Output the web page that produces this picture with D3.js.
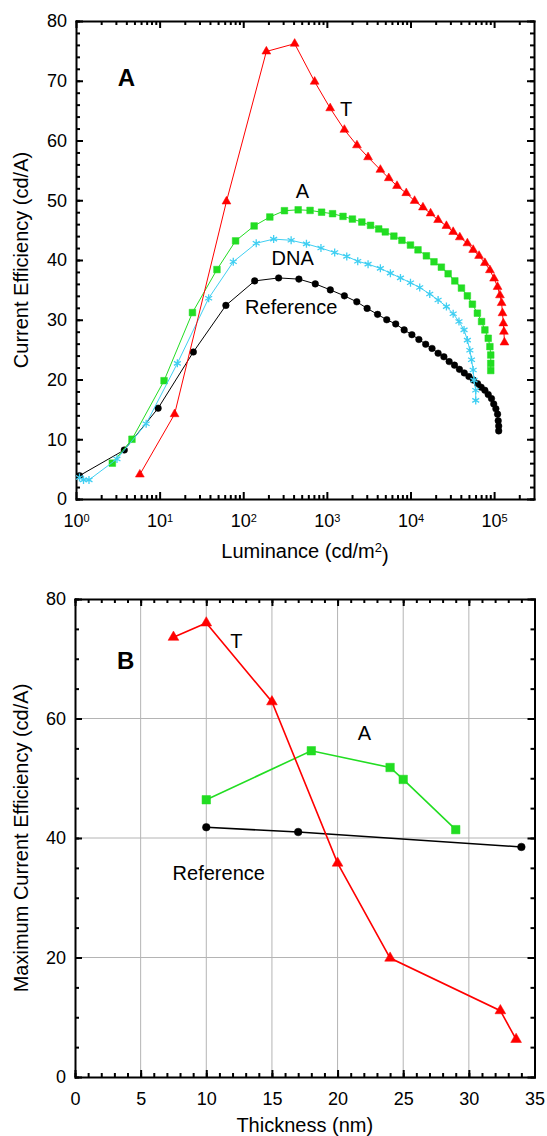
<!DOCTYPE html>
<html>
<head>
<meta charset="utf-8">
<script src="https://cdn.jsdelivr.net/npm/d3@7"></script>
<style>
body { margin: 0; background: #fff; }
svg text { font-family: Arial, "Liberation Sans", Helvetica, sans-serif; fill: #000; }
</style>
</head>
<body>
<svg id="chart" width="547" height="1136"></svg>
<script>
// --- PANEL A DATA (luminance cd/m2, current efficiency cd/A) ---
var tLum = [5.8, 15.1, 63, 189, 412, 714, 1096, 1620, 2290, 3110, 4365, 5500, 6900, 8900, 11200, 14100, 17400, 21400, 26900, 32400, 38900, 47900, 56200, 66100, 77600, 89100, 100000, 110000, 117500, 123000, 126000, 129000, 131000, 133000];
var tEff = [4.1, 14.2, 49.8, 74.9, 76.2, 69.85, 65.4, 61.8, 59.2, 57.2, 55.1, 53.7, 52.4, 51.2, 49.9, 48.8, 47.8, 46.7, 45.7, 44.7, 43.8, 42.8, 41.7, 40.7, 39.5, 38.3, 36.9, 35.5, 34.1, 32.8, 31.1, 29.4, 28.0, 26.2];

var aLum = [2.72, 4.67, 11.3, 24.7, 48.5, 81, 135, 208, 311, 454, 630, 865, 1170, 1560, 2020, 2620, 3330, 4170, 5000, 6330, 7900, 10000, 12300, 15500, 19100, 23400, 28200, 33900, 40700, 47900, 55000, 63100, 70800, 77600, 85100, 89100, 91200, 91200, 91200];
var aEff = [6.0, 10.0, 19.8, 31.2, 38.4, 43.2, 45.7, 47.2, 48.25, 48.4, 48.3, 48.0, 47.75, 47.3, 46.85, 46.35, 45.8, 45.2, 44.7, 44.0, 43.3, 42.5, 41.7, 40.7, 39.7, 38.8, 37.7, 36.5, 35.3, 34.0, 32.6, 31.1, 29.7, 28.3, 26.9, 25.5, 24.1, 22.7, 21.5];

var dnaLum = [1.1, 1.23, 1.43, 3.09, 6.9, 16.3, 38.6, 76, 143, 231, 374, 570, 850, 1240, 1730, 2340, 3110, 4365, 5750, 7590, 10000, 12900, 17000, 21400, 26900, 32400, 38000, 43700, 47900, 51300, 53700, 56200, 57500, 60300, 60300];
var dnaEff = [3.6, 3.2, 3.2, 6.7, 12.6, 22.7, 33.6, 39.7, 42.8, 43.5, 43.3, 42.7, 42.0, 41.25, 40.6, 39.8, 39.3, 38.6, 37.8, 37.0, 36.2, 35.4, 34.3, 33.3, 32.2, 31.0, 29.7, 28.3, 26.6, 24.9, 23.3, 21.6, 19.9, 18.2, 16.5];

var refLum = [1.1, 3.78, 9.6, 25.3, 62, 137, 265, 463, 727, 1100, 1620, 2280, 3030, 4040, 5200, 6660, 8400, 10400, 12600, 15200, 18100, 21400, 25100, 29000, 33600, 38500, 44000, 50000, 56600, 63500, 70000, 77500, 85000, 93000, 99000, 105000, 110000, 112000, 113500, 113500];
var refEff = [3.9, 8.2, 15.2, 24.6, 32.4, 36.5, 37.0, 36.8, 36.0, 35.0, 34.0, 33.0, 31.9, 30.9, 30.0, 29.3, 28.3, 27.5, 26.7, 25.9, 25.2, 24.4, 23.8, 23.0, 22.4, 21.7, 21.1, 20.5, 19.9, 19.3, 18.7, 18.2, 17.5, 16.8, 15.9, 15.1, 14.2, 13.1, 12.2, 11.4];

// --- PANEL B DATA (thickness nm, max current efficiency cd/A) ---
var thickT = [7.5, 10, 15, 20, 24, 32.4, 33.6];
var maxT = [73.6, 76.0, 62.8, 35.8, 19.9, 11.1, 6.3];
var thickA = [10, 18, 24, 25, 29];
var maxA = [46.4, 54.6, 51.8, 49.8, 41.4];
var thickRef = [10, 17, 34];
var maxRef = [41.8, 41.0, 38.5];

// tick values
var decades = [1, 10, 100, 1000, 10000, 100000];
var yTicksA = [0, 10, 20, 30, 40, 50, 60, 70, 80];
var xTicksB = [0, 5, 10, 15, 20, 25, 30, 35];
var yTicksB = [0, 20, 40, 60, 80];

var red = "#ff0000", green = "#22dd22", cyan = "#40cff2", black = "#000000";

var svg = d3.select("#chart");

// custom asterisk marker
var asterisk = {
    draw: function(ctx, size) {
        var r = Math.sqrt(size) / 2;
        for (var k = 0; k < 3; k++) {
            var a = Math.PI / 2 + k * Math.PI / 3;
            ctx.moveTo(r * Math.cos(a), r * Math.sin(a));
            ctx.lineTo(-r * Math.cos(a), -r * Math.sin(a));
        }
    }
};

// draws a closed frame with inward ticks on all four sides
function drawFrame(g, x, y, xMajor, xMinor, yMajor, yMinor, xFmt, yFmt) {
    var x0 = x.range()[0], x1 = x.range()[1];
    var y0 = y.range()[0], y1 = y.range()[1];
    var axes = [
        {ax: d3.axisBottom, s: x, t: "translate(0," + y0 + ")", maj: xMajor, min: xMinor, fmt: xFmt},
        {ax: d3.axisTop, s: x, t: "translate(0," + y1 + ")", maj: xMajor, min: xMinor, fmt: null},
        {ax: d3.axisLeft, s: y, t: "translate(" + x0 + ",0)", maj: yMajor, min: yMinor, fmt: yFmt},
        {ax: d3.axisRight, s: y, t: "translate(" + x1 + ",0)", maj: yMajor, min: yMinor, fmt: null}
    ];
    axes.forEach(function(a) {
        g.append("g")
            .attr("class", "minor")
            .attr("transform", a.t)
            .call(a.ax(a.s).tickValues(a.min).tickSize(-4).tickSizeOuter(0).tickFormat(""))
            .call(function(s) { s.select(".domain").remove(); });
        var m = g.append("g")
            .attr("class", "major")
            .attr("transform", a.t)
            .call(a.ax(a.s).tickValues(a.maj).tickSize(-7).tickSizeOuter(0)
                .tickPadding(a.ax === d3.axisLeft ? 9 : 15)
                .tickFormat(a.fmt ? a.fmt : ""));
        m.selectAll("text").attr("font-size", "18px").attr("font-family", null);
    });
    g.selectAll(".tick line").attr("stroke", "#000").attr("stroke-width", 2);
    g.selectAll(".domain").attr("stroke", "#000").attr("stroke-width", 2).attr("stroke-linecap", "square");
}

function drawSeries(g, x, y, xs, ys, color, shape, size, lw) {
    var pts = xs.map(function(d, i) { return [x(d), y(ys[i])]; });
    g.append("path")
        .datum(pts)
        .attr("fill", "none")
        .attr("stroke", color)
        .attr("stroke-width", lw)
        .attr("d", d3.line());
    var sym = d3.symbol().type(shape).size(size);
    g.selectAll(null)
        .data(pts)
        .enter()
        .append("path")
        .attr("transform", function(d) { return "translate(" + d[0] + "," + d[1] + ")"; })
        .attr("d", sym)
        .attr("fill", shape === asterisk ? "none" : color)
        .attr("stroke", color)
        .attr("stroke-width", shape === asterisk ? 1.3 : 0.5);
}

function label(g, px, py, txt, size, bold) {
    g.append("text")
        .attr("x", px)
        .attr("y", py)
        .attr("text-anchor", "middle")
        .attr("dominant-baseline", "central")
        .attr("font-size", size)
        .attr("font-weight", bold ? "bold" : "normal")
        .text(txt);
}

// ================= PANEL A =================
var xA = d3.scaleLog().domain([1, 3e5]).range([76, 534]);
var yA = d3.scaleLinear().domain([0, 80]).range([499, 21]);

var minorLog = [];
decades.forEach(function(d) {
    for (var k = 2; k <= 9; k++) { if (d * k < 3e5) minorLog.push(d * k); }
});
var minorA = d3.range(0, 81, 2);

var gA = svg.append("g");
drawFrame(gA, xA, yA, decades, minorLog, yTicksA, minorA, function() { return ""; }, d3.format("d"));

// superscript labels on log axis
gA.select(".major").selectAll(".tick text").each(function(d) {
    var t = d3.select(this);
    t.append("tspan").text("10");
    t.append("tspan").attr("dy", "-0.45em").attr("font-size", "11px").text(Math.round(Math.log10(d)));
});

var plotA = gA.append("g");
drawSeries(plotA, xA, yA, refLum, refEff, black, d3.symbolCircle, 34, 1);
drawSeries(plotA, xA, yA, aLum, aEff, green, d3.symbolSquare, 44, 1);
drawSeries(plotA, xA, yA, dnaLum, dnaEff, cyan, asterisk, 64, 1);
drawSeries(plotA, xA, yA, tLum, tEff, red, d3.symbolTriangle, 34, 1);

label(gA, xA(4), yA(70.6), "A", "24px", true);
label(gA, xA(1700), yA(65.3), "T", "20px");
label(gA, xA(510), yA(51.6), "A", "20px");
label(gA, xA(390), yA(40.4), "DNA", "20px");
label(gA, xA(375), yA(32.1), "Reference", "20px");

gA.append("text")
    .attr("transform", "translate(28," + (yA(40)) + ") rotate(-90)")
    .attr("text-anchor", "middle")
    .attr("font-size", "20px")
    .text("Current Efficiency (cd/A)");

var titleA = gA.append("text")
    .attr("x", (76 + 534) / 2)
    .attr("y", 558)
    .attr("text-anchor", "middle")
    .attr("font-size", "20px");
titleA.append("tspan").text("Luminance (cd/m");
titleA.append("tspan").attr("dy", "-0.5em").attr("font-size", "13px").text("2");
titleA.append("tspan").attr("dy", "0.5em").text(")");

// ================= PANEL B =================
var xB = d3.scaleLinear().domain([0, 35]).range([75, 534.5]);
var yB = d3.scaleLinear().domain([0, 80]).range([1077, 599]);

var gB = svg.append("g");

// grid
gB.append("g").selectAll("line")
    .data(xTicksB.slice(1, -1))
    .enter().append("line")
    .attr("x1", function(d) { return xB(d); })
    .attr("x2", function(d) { return xB(d); })
    .attr("y1", yB(0)).attr("y2", yB(80))
    .attr("stroke", "#b4b4b4").attr("stroke-width", 1);
gB.append("g").selectAll("line")
    .data(yTicksB.slice(1, -1))
    .enter().append("line")
    .attr("y1", function(d) { return yB(d); })
    .attr("y2", function(d) { return yB(d); })
    .attr("x1", xB(0)).attr("x2", xB(35))
    .attr("stroke", "#b4b4b4").attr("stroke-width", 1);

drawFrame(gB, xB, yB, xTicksB, d3.range(0, 36, 1), yTicksB, d3.range(0, 81, 5), d3.format("d"), d3.format("d"));

var plotB = gB.append("g");
drawSeries(plotB, xB, yB, thickRef, maxRef, black, d3.symbolCircle, 46, 1.6);
drawSeries(plotB, xB, yB, thickA, maxA, green, d3.symbolSquare, 72, 1.6);
drawSeries(plotB, xB, yB, thickT, maxT, red, d3.symbolTriangle, 50, 1.6);

label(gB, xB(3.86), yB(69.7), "B", "24px", true);
label(gB, xB(12.3), yB(73.0), "T", "20px");
label(gB, xB(22.05), yB(57.5), "A", "20px");
label(gB, xB(10.95), yB(34.1), "Reference", "20px");

gB.append("text")
    .attr("transform", "translate(28," + yB(40) + ") rotate(-90)")
    .attr("text-anchor", "middle")
    .attr("font-size", "20px")
    .text("Maximum Current Efficiency (cd/A)");

gB.append("text")
    .attr("x", (75 + 534.5) / 2)
    .attr("y", 1132)
    .attr("text-anchor", "middle")
    .attr("font-size", "20px")
    .text("Thickness (nm)");
</script>
</body>
</html>
